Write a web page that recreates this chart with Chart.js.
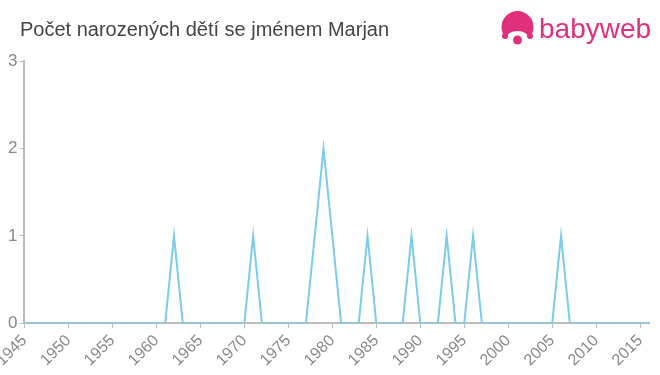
<!DOCTYPE html>
<html>
<head>
<meta charset="utf-8">
<script src="https://cdn.jsdelivr.net/npm/chart.js@4"></script>
<style>
    html, body { margin: 0; padding: 0; background: #fff; }
    body { width: 660px; height: 375px; position: relative; overflow: hidden; font-family: 'Liberation Sans', Arial, sans-serif; }
    .title { position: absolute; left: 20px; top: 18px; font-size: 20px; color: #444; white-space: nowrap; }
    .logo { position: absolute; left: 500px; top: 11px; display: flex; align-items: center; }
    .logo span { font-size: 28px; color: #e0307c; margin-left: 4px; }
    .chart-box { position: absolute; left: 0; top: 0; width: 660px; height: 375px; }
</style>
</head>
<body>
<div class="chart-box"><canvas id="namesChart"></canvas></div>
<div class="title">Počet narozených dětí se jménem Marjan</div>
<div class="logo">
    <svg width="35" height="35" viewBox="0 0 35 35">
        <circle cx="17.5" cy="16" r="16" fill="#e0307c"/>
        <ellipse cx="17.5" cy="27" rx="11" ry="7" fill="#fff"/>
        <circle cx="5" cy="25" r="3" fill="#e0307c"/>
        <circle cx="30" cy="25" r="3" fill="#e0307c"/>
        <circle cx="17.5" cy="29" r="4.5" fill="#e0307c"/>
    </svg>
    <span>babyweb</span>
</div>
<script>
// years 1945 - 2016
const years = [
    1945, 1946, 1947, 1948, 1949, 1950, 1951, 1952, 1953, 1954,
    1955, 1956, 1957, 1958, 1959, 1960, 1961, 1962, 1963, 1964,
    1965, 1966, 1967, 1968, 1969, 1970, 1971, 1972, 1973, 1974,
    1975, 1976, 1977, 1978, 1979, 1980, 1981, 1982, 1983, 1984,
    1985, 1986, 1987, 1988, 1989, 1990, 1991, 1992, 1993, 1994,
    1995, 1996, 1997, 1998, 1999, 2000, 2001, 2002, 2003, 2004,
    2005, 2006, 2007, 2008, 2009, 2010, 2011, 2012, 2013, 2014,
    2015, 2016
];
const births = [
    0, 0, 0, 0, 0, 0, 0, 0, 0, 0,
    0, 0, 0, 0, 0, 0, 0, 1, 0, 0,
    0, 0, 0, 0, 0, 0, 1, 0, 0, 0,
    0, 0, 0, 1, 2, 1, 0, 0, 0, 1,
    0, 0, 0, 0, 1, 0, 0, 0, 1, 0,
    0, 1, 0, 0, 0, 0, 0, 0, 0, 0,
    0, 1, 0, 0, 0, 0, 0, 0, 0, 0,
    0, 0
];
const xTicks = [1945, 1950, 1955, 1960, 1965, 1970, 1975, 1980, 1985, 1990, 1995, 2000, 2005, 2010, 2015];
const yTicks = [0, 1, 2, 3];

const lineBlue = '#7ccbe8';
const axisGray = '#bbbbbb';
const labelGray = '#888888';
const fontFamily = "'Liberation Sans', Arial, sans-serif";

const points = years.map((y, i) => ({ x: y, y: births[i] }));

new Chart(document.getElementById('namesChart'), {
    type: 'line',
    data: {
        datasets: [{
            data: points,
            borderColor: lineBlue,
            borderWidth: 2,
            pointRadius: 0,
            tension: 0,
            fill: false
        }]
    },
    options: {
        responsive: true,
        maintainAspectRatio: false,
        animation: false,
        layout: { padding: { top: 61, right: 11, left: 6, bottom: 2 } },
        plugins: { legend: { display: false }, tooltip: { enabled: false } },
        scales: {
            x: {
                type: 'linear',
                min: 1945,
                max: 2016,
                afterBuildTicks: axis => { axis.ticks = xTicks.map(v => ({ value: v })); },
                // let the first rotated label run off the left edge
                afterFit: axis => { axis.paddingLeft = 0; },
                grid: { drawOnChartArea: false, color: axisGray, tickLength: 5 },
                border: { color: axisGray, width: 2 },
                ticks: {
                    minRotation: 45,
                    maxRotation: 45,
                    color: labelGray,
                    font: { family: fontFamily, size: 16 },
                    callback: v => String(v)
                }
            },
            y: {
                min: 0,
                max: 3,
                afterBuildTicks: axis => { axis.ticks = yTicks.map(v => ({ value: v })); },
                grid: { drawOnChartArea: false, color: axisGray, tickLength: 5 },
                border: { color: axisGray, width: 2 },
                ticks: {
                    color: labelGray,
                    padding: 2,
                    font: { family: fontFamily, size: 17 }
                }
            }
        }
    }
});
</script>
</body>
</html>
